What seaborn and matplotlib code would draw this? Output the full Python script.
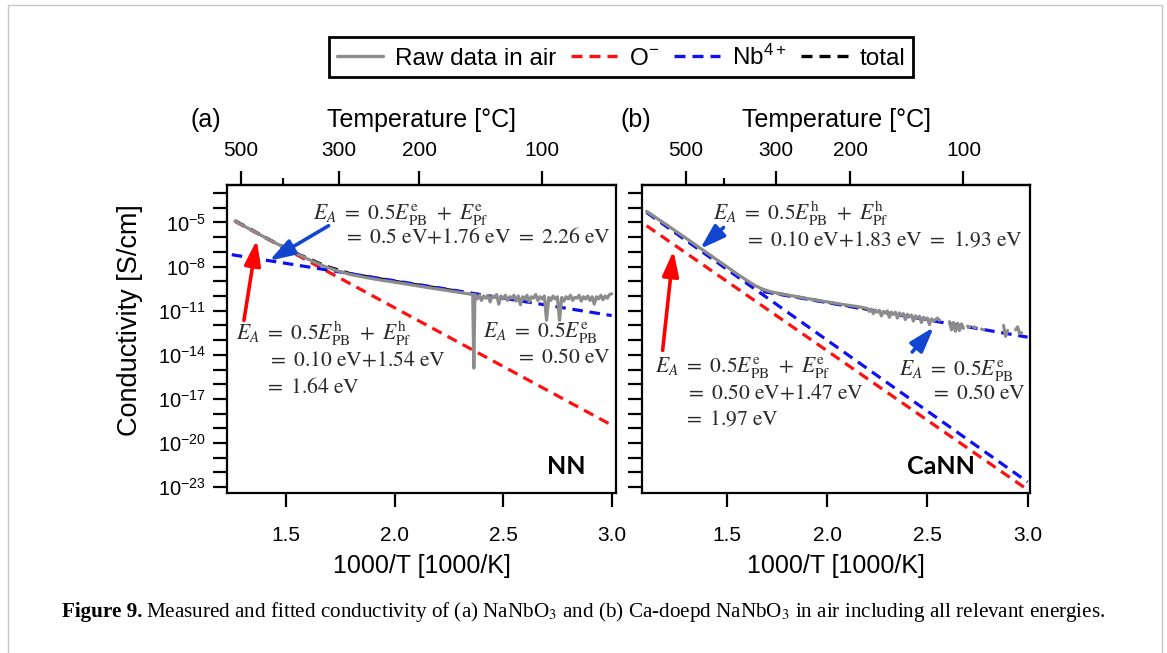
import numpy as np
import pandas as pd
import matplotlib
matplotlib.use("Agg")
import matplotlib.pyplot as plt
import seaborn as sns
from matplotlib.lines import Line2D
from matplotlib.ticker import FixedLocator, NullLocator

# ---------------- data (x = 1000/T, values given as log10 of conductivity) ----------------
# panel (a) NaNbO3
a_raw_x = [1.265, 1.32, 1.38, 1.44, 1.50, 1.56, 1.62, 1.68, 1.74, 1.80, 1.86, 1.92, 2.00, 2.08,
           2.16, 2.24, 2.30, 2.34,
           2.36, 2.365, 2.37, 2.38, 2.39, 2.40, 2.41, 2.42, 2.43, 2.44, 2.45, 2.46, 2.47, 2.48,
           2.49, 2.50, 2.51, 2.52, 2.53, 2.54, 2.55, 2.56, 2.57, 2.58, 2.59, 2.60, 2.61, 2.62,
           2.63, 2.64, 2.65, 2.66, 2.67, 2.68, 2.69, 2.70, 2.71, 2.72, 2.73, 2.74, 2.75, 2.76,
           2.77, 2.78, 2.79, 2.80, 2.81, 2.82, 2.83, 2.84, 2.85, 2.86, 2.87, 2.88, 2.89, 2.90,
           2.91, 2.92, 2.93, 2.94, 2.95, 2.96, 2.97, 2.98, 2.99, 3.00]
a_raw_logy = [-4.90, -5.35, -5.83, -6.31, -6.77, -7.20, -7.62, -8.00, -8.30, -8.55, -8.72, -8.88,
              -9.06, -9.25, -9.44, -9.62, -9.76, -9.85,
              -9.90, -14.90, -9.90, -10.20, -9.95, -10.30, -10.00, -10.15, -9.95, -10.40, -10.00,
              -10.10, -9.90, -10.55, -10.00, -10.20, -9.95, -10.30, -10.05, -10.15, -9.95, -10.35,
              -10.00, -10.60, -10.05, -10.20, -9.95, -10.40, -10.05, -10.15, -9.90, -10.30, -10.05,
              -10.20, -10.00, -11.65, -10.10, -10.30, -10.00, -10.20, -10.05, -11.65, -10.10,
              -10.35, -10.05, -10.20, -9.95, -10.30, -10.10, -10.15, -9.95, -10.35, -10.05, -10.20,
              -10.00, -10.30, -10.05, -10.55, -10.05, -10.20, -9.95, -10.25, -10.00, -10.15, -9.90,
              -9.85]
a_O_x = [1.265, 3.00]
a_O_logy = [-4.93, -18.78]
a_Nb_x = [1.25, 3.00]
a_Nb_logy = [-7.19, -11.33]
a_tot_x = [1.265, 1.44, 1.56, 1.68, 1.80, 2.00, 2.30]
a_tot_logy = [-4.88, -6.30, -7.18, -7.95, -8.50, -9.00, -9.70]

# panel (b) Ca-doped NaNbO3
b_raw_x = [1.098, 1.15, 1.20, 1.25, 1.30, 1.35, 1.40, 1.45, 1.50, 1.55, 1.60, 1.64, 1.68, 1.72,
           1.78, 1.85, 1.92, 2.00, 2.08, 2.15,
           2.20, 2.21, 2.22, 2.23, 2.24, 2.25, 2.26, 2.27, 2.28, 2.29, 2.30, 2.31, 2.32, 2.33,
           2.34, 2.35, 2.36, 2.37, 2.38, 2.39, 2.40, 2.41, 2.42, 2.43, 2.44, 2.45, 2.46, 2.47,
           2.48, 2.49, 2.50, 2.51, 2.52, 2.53, 2.54, 2.55, 2.56, 2.57,
           2.61, 2.62, 2.63, 2.64, 2.65, 2.66, 2.67, 2.68, 2.69,
           2.70, 2.71, 2.72, 2.73, 2.74, 2.75, 2.77, 2.78, 2.79,
           2.88, 2.89, 2.90, 2.91, 2.94, 2.95, 2.96, 2.97]
b_raw_logy = [-4.25, -4.72, -5.18, -5.65, -6.12, -6.60, -7.07, -7.55, -8.02, -8.50, -8.95, -9.30,
              -9.55, -9.72, -9.88, -10.05, -10.22, -10.40, -10.58, -10.72,
              -10.85, -11.05, -10.90, -11.20, -10.95, -11.10, -10.98, -11.35, -11.05, -11.15,
              -11.02, -11.45, -11.10, -11.25, -11.10, -11.50, -11.15, -11.30, -11.20, -11.60,
              -11.25, -11.40, -11.30, -11.70, -11.35, -11.50, -11.38, -11.80, -11.45, -11.60,
              -11.50, -11.95, -11.55, -11.70, -11.60, -11.50, -11.65, np.nan,
              -11.75, -12.30, -11.80, -12.40, -11.85, -12.35, -11.90, -12.20, np.nan,
              -12.05, -12.10, np.nan, -12.10, -12.15, np.nan, -12.25, -12.30, np.nan,
              -12.00, -12.75, -12.35, np.nan, -12.30, -12.10, -12.55, -12.50]
b_O_x = [1.098, 2.99]
b_O_logy = [-5.22, -23.08]
b_Nb_steep_x = [1.098, 3.00]
b_Nb_steep_logy = [-4.32, -22.65]
b_Nb_shallow_x = [1.68, 3.00]
b_Nb_shallow_logy = [-9.70, -12.80]
b_tot_x = [1.098, 1.30, 1.50, 1.62, 1.70, 1.80, 2.20]
b_tot_logy = [-4.27, -6.20, -8.10, -9.20, -9.70, -9.95, -10.90]

x_ticks = [1.5, 2.0, 2.5, 3.0]
temp_major = [500, 300, 200, 100]
temp_minor = [400]
y_decades = list(range(-3, -24, -1))
y_labelled = [-5, -8, -11, -14, -17, -20, -23]
legend_labels = ["Raw data in air", "O$^{-}$", "Nb$^{4+}$", "total"]

# ---------------- style ----------------
sns.set_theme(style="ticks")
plt.rcParams["font.family"] = ["Liberation Sans", "DejaVu Sans"]
plt.rcParams["mathtext.fontset"] = "custom"
plt.rcParams["mathtext.rm"] = "Liberation Sans"
plt.rcParams["mathtext.it"] = "Liberation Sans:italic"
plt.rcParams["mathtext.bf"] = "Liberation Sans:bold"
plt.rcParams["axes.edgecolor"] = "black"
plt.rcParams["xtick.color"] = "black"
plt.rcParams["ytick.color"] = "black"
plt.rcParams["text.color"] = "black"
plt.rcParams["axes.labelcolor"] = "black"
plt.rcParams["axes.linewidth"] = 1.6

W, H = 1167, 653
fig = plt.figure(figsize=(W / 100, H / 100), dpi=100)
fig.patch.set_facecolor("white")

axA = fig.add_axes([227 / W, 1 - 493 / H, 389 / W, 308 / H])
axB = fig.add_axes([642 / W, 1 - 493 / H, 388 / W, 308 / H])

GRAY = "#8c8c8c"
RED = "#ff1010"
BLUE = "#1010f0"
DASH = (0, (3.3, 2.1))
TXT = "#2a2a2a"


def to_df(xs, logs):
    df = pd.DataFrame({"x": xs, "y": 10.0 ** np.asarray(logs, dtype=float)})
    df["seg"] = df["y"].isna().cumsum()
    return df.dropna()


def dashed(ax, xs, logs, color, z=2):
    df = to_df(xs, logs)
    sns.lineplot(data=df, x="x", y="y", ax=ax, color=color, lw=2.3, linestyle=DASH,
                 estimator=None, sort=False, legend=False, zorder=z)


def raw(ax, xs, logs):
    df = to_df(xs, logs)
    sns.lineplot(data=df, x="x", y="y", units="seg", ax=ax, color=GRAY, lw=2.3,
                 estimator=None, sort=False, legend=False, zorder=3)


def inv_to_c(x):
    with np.errstate(divide="ignore", invalid="ignore"):
        return 1000.0 / np.asarray(x, dtype=float) - 273.15


def c_to_inv(t):
    with np.errstate(divide="ignore", invalid="ignore"):
        return 1000.0 / (np.asarray(t, dtype=float) + 273.15)


for ax, xl in ((axA, (1.228, 3.02)), (axB, (1.075, 3.012))):
    ax.set_yscale("log")
    ax.set_xlim(*xl)
    ax.set_ylim(10.0 ** -23.4, 10.0 ** -2.45)

dashed(axA, a_tot_x, a_tot_logy, "black", z=1.5)
dashed(axA, a_O_x, a_O_logy, RED)
dashed(axA, a_Nb_x, a_Nb_logy, BLUE)
raw(axA, a_raw_x, a_raw_logy)

dashed(axB, b_tot_x, b_tot_logy, "black", z=1.5)
dashed(axB, b_O_x, b_O_logy, RED)
dashed(axB, b_Nb_steep_x, b_Nb_steep_logy, BLUE)
dashed(axB, b_Nb_shallow_x, b_Nb_shallow_logy, BLUE)
raw(axB, b_raw_x, b_raw_logy)

for ax, show_y in ((axA, True), (axB, False)):
    ax.set_xticks(x_ticks)
    ax.set_xticklabels([f"{v:.1f}" for v in x_ticks])
    ax.yaxis.set_major_locator(FixedLocator([10.0 ** k for k in y_decades]))
    ax.yaxis.set_minor_locator(NullLocator())
    if show_y:
        ax.set_yticklabels([f"$10^{{{k}}}$" if k in y_labelled else "" for k in y_decades])
    else:
        ax.set_yticklabels([])
    ax.tick_params(axis="both", which="major", direction="out", length=10, width=1.6,
                   labelsize=15, colors="black")
    ax.tick_params(axis="x", pad=14)
    ax.tick_params(axis="y", pad=5, labelsize=14.5)
    ax.set_xlabel("1000/T [1000/K]", fontsize=18, labelpad=6)
    ax.set_ylabel("")
    for s in ax.spines.values():
        s.set_linewidth(1.6)
        s.set_color("black")

    sec = ax.secondary_xaxis("top", functions=(inv_to_c, c_to_inv))
    sec.set_xticks(temp_major)
    sec.set_xticklabels([str(t) for t in temp_major])
    sec.xaxis.set_minor_locator(FixedLocator(temp_minor))
    sec.tick_params(which="major", direction="out", length=10, width=1.6, labelsize=15, pad=8)
    sec.tick_params(which="minor", direction="out", length=5, width=1.6)
    sec.set_xlabel("Temperature [°C]", fontsize=18, labelpad=10)
    sec.spines["top"].set_linewidth(1.6)

axA.set_ylabel("Conductivity [S/cm]", fontsize=19.5)
axA.yaxis.set_label_coords(-0.216, 0.56)


# ---------------- annotations ----------------
def note(ax, x, lg, s):
    ax.text(x, 10.0 ** lg, s, fontsize=15.6, math_fontfamily="stix", ha="left", va="center",
            color=TXT, zorder=5)


def arrow(ax, tail, head, color):
    ax.annotate("", xy=(head[0], 10.0 ** head[1]), xytext=(tail[0], 10.0 ** tail[1]),
                arrowprops=dict(arrowstyle="-|>,head_length=0.8,head_width=0.26", color=color,
                                lw=2.6, shrinkA=0, shrinkB=0, mutation_scale=19), zorder=6)


EPBe = r"E_{\mathrm{PB}}^{\mathrm{e}}"
EPfe = r"E_{\mathrm{Pf}}^{\mathrm{e}}"
EPBh = r"E_{\mathrm{PB}}^{\mathrm{h}}"
EPfh = r"E_{\mathrm{Pf}}^{\mathrm{h}}"
eV = r"\ \mathrm{eV}"
EQ = r"\ =\ "

note(axA, 1.624, -4.43, rf"$E_A{EQ}0.5{EPBe}\ +\ {EPfe}$")
note(axA, 1.762, -6.02, rf"$=\ 0.5{eV}{{+}}1.76{eV}{EQ}2.26{eV}$")
note(axA, 1.270, -12.57, rf"$E_A{EQ}0.5{EPBh}\ +\ {EPfh}$")
note(axA, 1.411, -14.38, rf"$=\ 0.10{eV}{{+}}1.54{eV}$")
note(axA, 1.399, -16.23, rf"$=\ 1.64{eV}$")
note(axA, 2.408, -12.46, rf"$E_A{EQ}0.5{EPBe}$")
note(axA, 2.557, -14.15, rf"$=\ 0.50{eV}$")
axA.text(2.79, 10.0 ** -21.6, "NN", fontsize=18, fontweight="bold", family=["Lato", "DejaVu Sans"],
         ha="center", va="center", color="black")
arrow(axA, (1.696, -5.22), (1.423, -7.60), "#1346d0")
arrow(axA, (1.306, -11.66), (1.365, -6.19), "#ff0000")

note(axB, 1.428, -4.43, rf"$E_A{EQ}0.5{EPBh}\ +\ {EPfh}$")
note(axB, 1.582, -6.24, rf"$=\ 0.10{eV}{{+}}1.83{eV}{EQ}1.93{eV}$")
note(axB, 1.140, -14.83, rf"$E_A{EQ}0.5{EPBe}\ +\ {EPfe}$")
note(axB, 1.290, -16.63, rf"$=\ 0.50{eV}{{+}}1.47{eV}$")
note(axB, 1.282, -18.40, rf"$=\ 1.97{eV}$")
note(axB, 2.357, -15.05, rf"$E_A{EQ}0.5{EPBe}$")
note(axB, 2.515, -16.63, rf"$=\ 0.50{eV}$")
axB.text(2.565, 10.0 ** -21.6, "CaNN", fontsize=18, fontweight="bold", family=["Lato", "DejaVu Sans"],
         ha="center", va="center", color="black")
arrow(axB, (1.482, -5.34), (1.365, -6.80), "#1346d0")
arrow(axB, (1.178, -13.70), (1.232, -6.92), "#ff0000")
arrow(axB, (2.424, -13.81), (2.532, -12.12), "#1346d0")

# panel letters
fig.text(206 / W, 1 - 120 / H, "(a)", fontsize=18, ha="center", va="center")
fig.text(636 / W, 1 - 120 / H, "(b)", fontsize=18, ha="center", va="center")

# ---------------- legend ----------------
handles = [Line2D([], [], color=GRAY, lw=2.4),
           Line2D([], [], color=RED, lw=2.4, linestyle=DASH),
           Line2D([], [], color=BLUE, lw=2.4, linestyle=DASH),
           Line2D([], [], color="black", lw=2.4, linestyle=DASH)]
leg = fig.legend(handles, legend_labels, loc="center", bbox_to_anchor=(621 / W, 1 - 57 / H),
                 ncol=4, frameon=True, fancybox=False, edgecolor="black", framealpha=1,
                 fontsize=17.5, handlelength=1.9, handletextpad=0.5, columnspacing=0.6,
                 borderpad=0.3)
leg.get_frame().set_linewidth(2.0)

# ---------------- caption ----------------
cap_y = 1 - 612 / H
cap_fs = 15.2
t1 = fig.text(62 / W, cap_y, "Figure 9.", fontsize=cap_fs, fontweight="bold",
              family=["Liberation Serif"], va="center", ha="left")
renderer = fig.canvas.get_renderer()
bb = t1.get_window_extent(renderer)
fig.text((bb.x1 + 4) / W, cap_y,
         "Measured and fitted conductivity of (a) NaNbO$_3$ and (b) Ca-doepd NaNbO$_3$ "
         "in air including all relevant energies.",
         fontsize=cap_fs, family=["Liberation Serif"], math_fontfamily="stix", va="center", ha="left")

# page frame
fc = "#c8c8c8"
fig.add_artist(Line2D([8 / W, 8 / W], [0, 1 - 5 / H], transform=fig.transFigure, color=fc, lw=1))
fig.add_artist(Line2D([8 / W, 1162 / W], [1 - 5 / H, 1 - 5 / H], transform=fig.transFigure, color=fc, lw=1))
fig.add_artist(Line2D([1162 / W, 1162 / W], [0, 1 - 5 / H], transform=fig.transFigure, color=fc, lw=1))

fig.savefig("out.png", dpi=100)
